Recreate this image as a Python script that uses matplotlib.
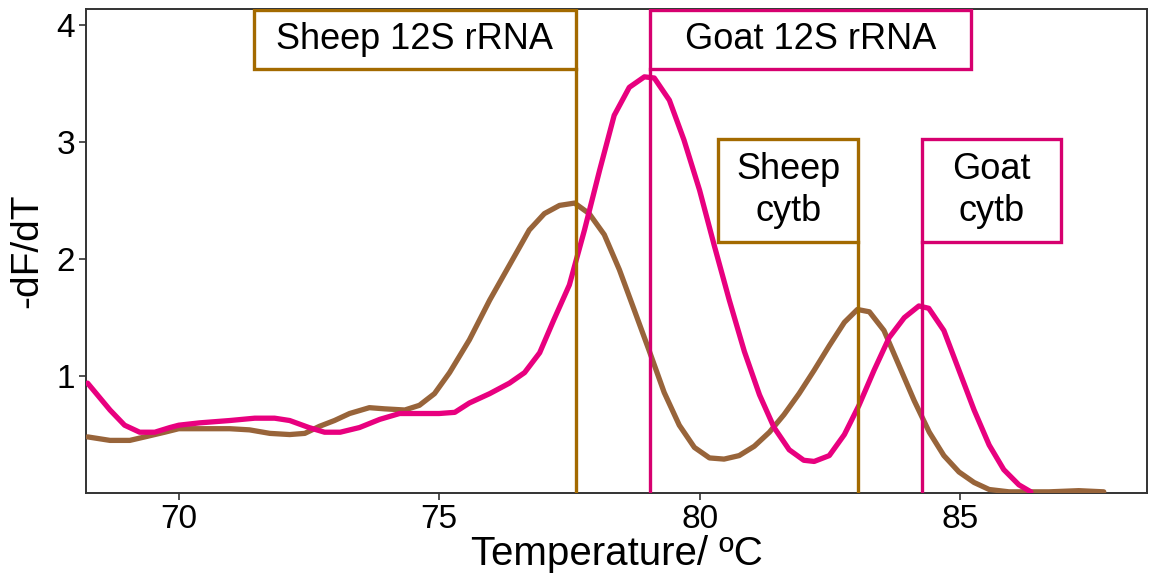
import matplotlib
matplotlib.use('Agg')
import matplotlib.pyplot as plt
from matplotlib.patches import Rectangle

plt.rcParams['font.family'] = ['Liberation Sans', 'DejaVu Sans']

# ── Colours ───────────────────────────────────────────────────
SHEEP_CURVE = '#98643A'
SHEEP_LINE  = '#A36A00'
GOAT_CURVE  = '#E8007F'
GOAT_LINE   = '#D6006F'

# ── Data ──────────────────────────────────────────────────────
goat_temp = [68.25, 68.68, 68.96, 69.25, 69.54, 69.83, 70.0, 70.4, 70.98, 71.46,
             71.84, 72.13, 72.5, 72.8, 73.1, 73.47, 73.86, 74.24, 74.62, 75.0,
             75.3, 75.58, 75.97, 76.35, 76.64, 76.93, 77.2, 77.5, 77.79, 78.08,
             78.36, 78.65, 78.94, 79.13, 79.42, 79.7, 80.0, 80.28, 80.57, 80.86,
             81.15, 81.43, 81.72, 82.0, 82.2, 82.49, 82.78, 83.06, 83.35, 83.64,
             83.93, 84.21, 84.4, 84.69, 84.98, 85.27, 85.56, 85.84, 86.13, 86.36]
goat_dfdt = [0.94, 0.71, 0.58, 0.52, 0.52, 0.56, 0.58, 0.60, 0.62, 0.64,
             0.64, 0.62, 0.56, 0.52, 0.52, 0.56, 0.63, 0.68, 0.68, 0.68,
             0.69, 0.77, 0.85, 0.94, 1.03, 1.20, 1.48, 1.78, 2.25, 2.76,
             3.23, 3.47, 3.56, 3.55, 3.36, 3.02, 2.59, 2.12, 1.65, 1.21,
             0.84, 0.56, 0.37, 0.28, 0.27, 0.32, 0.50, 0.75, 1.05, 1.33,
             1.50, 1.60, 1.58, 1.39, 1.05, 0.71, 0.41, 0.20, 0.07, 0.01]

sheep_temp = [68.25, 68.68, 69.06, 69.35, 69.73, 70.0, 70.4, 70.98, 71.36, 71.75,
              72.13, 72.42, 72.7, 72.99, 73.28, 73.66, 73.95, 74.34, 74.62, 74.91,
              75.2, 75.58, 75.97, 76.35, 76.73, 77.02, 77.31, 77.6, 77.88, 78.17,
              78.46, 78.75, 79.03, 79.32, 79.61, 79.9, 80.19, 80.47, 80.76, 81.05,
              81.34, 81.62, 81.91, 82.2, 82.49, 82.78, 83.03, 83.26, 83.54, 83.83,
              84.12, 84.41, 84.69, 84.98, 85.27, 85.56, 85.94, 86.71, 87.28, 87.76]
sheep_dfdt = [0.48, 0.45, 0.45, 0.48, 0.52, 0.55, 0.55, 0.55, 0.54, 0.51,
              0.50, 0.51, 0.57, 0.62, 0.68, 0.73, 0.72, 0.71, 0.75, 0.85,
              1.03, 1.31, 1.65, 1.95, 2.25, 2.39, 2.46, 2.48, 2.39, 2.21,
              1.91, 1.56, 1.22, 0.86, 0.58, 0.39, 0.30, 0.29, 0.32, 0.40,
              0.52, 0.67, 0.85, 1.05, 1.26, 1.46, 1.57, 1.55, 1.39, 1.09,
              0.79, 0.52, 0.32, 0.18, 0.09, 0.03, 0.01, 0.01, 0.02, 0.01]

# melting-temperature markers
marker_labels = ['Sheep 12S rRNA', 'Goat 12S rRNA', 'Sheep\ncytb', 'Goat\ncytb']
marker_tm     = [77.62, 79.04, 83.04, 84.27]
marker_colors = [SHEEP_LINE, GOAT_LINE, SHEEP_LINE, GOAT_LINE]

# label boxes: (x0, x1, y0, y1) in data units
label_boxes = [(71.44, 77.62, 3.63, 4.13),
               (79.04, 85.21, 3.63, 4.13),
               (80.36, 83.04, 2.15, 3.03),
               (84.27, 86.94, 2.15, 3.03)]

# ── Plot ──────────────────────────────────────────────────────
fig = plt.figure(figsize=(11.58, 5.86), dpi=100)
ax = fig.add_axes([0.0743, 0.1587, 0.9162, 0.8259])

ax.plot(sheep_temp, sheep_dfdt, color=SHEEP_CURVE, lw=3.8, zorder=3,
        solid_joinstyle='round', solid_capstyle='round')
ax.plot(goat_temp, goat_dfdt, color=GOAT_CURVE, lw=3.8, zorder=3,
        solid_joinstyle='round', solid_capstyle='round')

for lab, tm, col, (x0, x1, y0, y1) in zip(marker_labels, marker_tm, marker_colors, label_boxes):
    ax.plot([tm, tm], [0, y0], color=col, lw=2.4, zorder=4)
    ax.add_patch(Rectangle((x0, y0), x1 - x0, y1 - y0, facecolor='white',
                           edgecolor=col, lw=2.4, zorder=5))
    ax.text((x0 + x1) / 2, (y0 + y1) / 2, lab, ha='center', va='center',
            fontsize=26, color='black', linespacing=1.25, zorder=6)

ax.set_xlim(68.22, 88.59)
ax.set_ylim(0, 4.14)
ax.set_xticks([70, 75, 80, 85])
ax.set_yticks([1, 2, 3, 4])
ax.tick_params(direction='out', length=5, width=1.2, color='#333333',
               labelsize=24, pad=3)
for sp in ax.spines.values():
    sp.set_color('#333333')
    sp.set_linewidth(1.4)

ax.set_xlabel('Temperature/ ºC', fontsize=29, labelpad=0)
ax.set_ylabel('-dF/dT', fontsize=28, labelpad=8)

plt.savefig('out.png', dpi=100, facecolor='white')
